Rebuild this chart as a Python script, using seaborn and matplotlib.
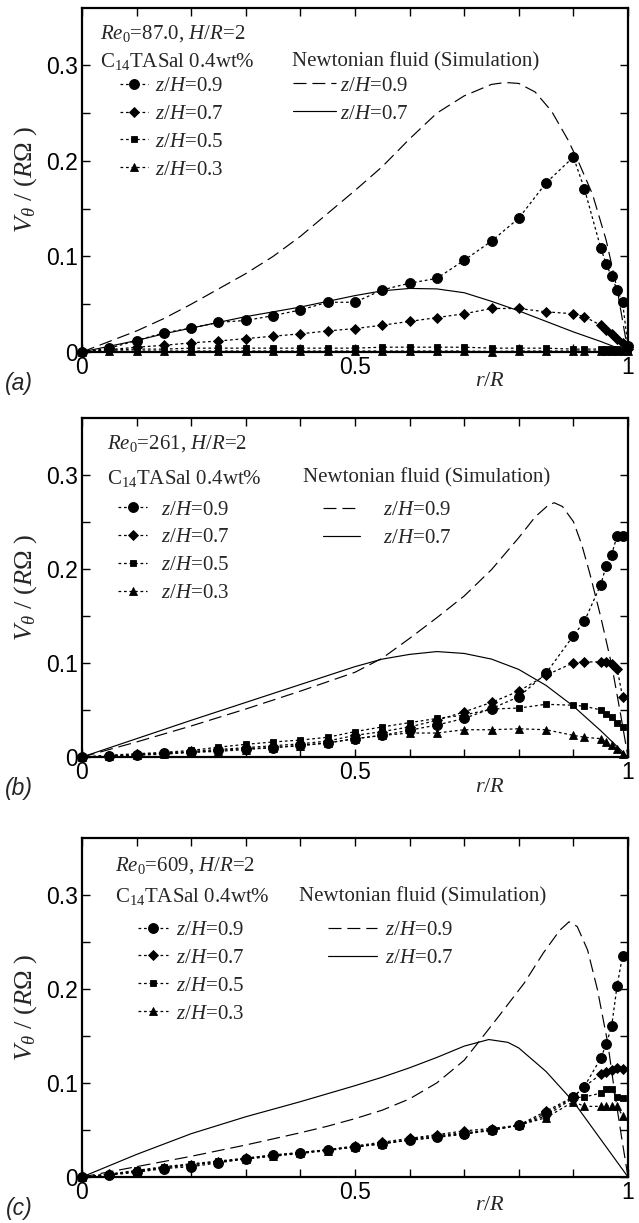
import matplotlib
matplotlib.use("Agg")
import matplotlib.pyplot as plt
from matplotlib.ticker import FixedLocator
import seaborn as sns

# ---------------------------------------------------------------------------
# Azimuthal velocity profiles V_theta/(R*Omega) versus r/R
# ---------------------------------------------------------------------------

# radial positions of the measurements
r_exp_a = [0, 0.05, 0.10, 0.15, 0.20, 0.25, 0.30, 0.35, 0.40, 0.45, 0.50, 0.55, 0.60,
           0.65, 0.70, 0.75, 0.80, 0.85, 0.90, 0.92, 0.95, 0.96, 0.97, 0.98, 0.99, 1.00]
r_exp_bc = [0, 0.05, 0.10, 0.15, 0.20, 0.25, 0.30, 0.35, 0.40, 0.45, 0.50, 0.55, 0.60,
            0.65, 0.70, 0.75, 0.80, 0.85, 0.90, 0.92, 0.95, 0.96, 0.97, 0.98, 0.99]

# (a) Re0 = 87.0, C14TASal 0.4wt%
a_z09 = [0, 0.004, 0.012, 0.020, 0.025, 0.031, 0.033, 0.038, 0.044, 0.052, 0.052, 0.065, 0.072,
         0.077, 0.096, 0.116, 0.140, 0.177, 0.204, 0.171, 0.109, 0.092, 0.079, 0.065, 0.052, 0.006]
a_z07 = [0, 0.0025, 0.005, 0.007, 0.0095, 0.0115, 0.014, 0.0165, 0.019, 0.022, 0.0245, 0.028, 0.032,
         0.036, 0.040, 0.0455, 0.0455, 0.042, 0.040, 0.037, 0.028, 0.023, 0.0185, 0.014, 0.009, 0.003]
a_z05 = [0, 0.002, 0.003, 0.003, 0.004, 0.004, 0.004, 0.004, 0.004, 0.004, 0.004, 0.005, 0.005,
         0.005, 0.005, 0.004, 0.004, 0.004, 0.003, 0.003, 0.003, 0.003, 0.003, 0.003, 0.002, 0.002]
a_z03 = [0, 0.001, 0.001, 0.001, 0.001, 0.001, 0.001, 0.001, 0.001, 0.001, 0.001, 0.001, 0.001,
         0.001, 0.001, 0.0005, 0.001, 0.001, 0.001, 0.001, 0.001, 0.001, 0.001, 0.001, 0.001, 0.001]

# (b) Re0 = 261
b_z09 = [0, 0.001, 0.002, 0.004, 0.005, 0.007, 0.009, 0.010, 0.0125, 0.015, 0.0195, 0.023, 0.0285,
         0.034, 0.041, 0.0515, 0.064, 0.089, 0.129, 0.144, 0.183, 0.203, 0.215, 0.235, 0.235]
b_z07 = [0, 0.001, 0.003, 0.004, 0.006, 0.008, 0.010, 0.012, 0.014, 0.017, 0.023, 0.027, 0.032,
         0.039, 0.048, 0.058, 0.070, 0.087, 0.100, 0.101, 0.101, 0.101, 0.099, 0.094, 0.064]
b_z05 = [0, 0.002, 0.0035, 0.005, 0.007, 0.0105, 0.0135, 0.016, 0.018, 0.021, 0.027, 0.032, 0.0365,
         0.041, 0.0445, 0.051, 0.052, 0.056, 0.055, 0.054, 0.050, 0.046, 0.042, 0.036, 0.032]
b_z03 = [0, 0.001, 0.002, 0.003, 0.005, 0.006, 0.008, 0.010, 0.012, 0.015, 0.0195, 0.023, 0.0255,
         0.0255, 0.029, 0.029, 0.030, 0.029, 0.023, 0.021, 0.0195, 0.016, 0.0125, 0.009, 0.0036]

# (c) Re0 = 609
c_z09 = [0, 0.002, 0.005, 0.009, 0.011, 0.015, 0.0195, 0.023, 0.0255, 0.029, 0.032, 0.0355, 0.039,
         0.042, 0.0455, 0.0495, 0.055, 0.0675, 0.085, 0.096, 0.126, 0.141, 0.160, 0.203, 0.235]
c_z07 = [0, 0.003, 0.006, 0.010, 0.013, 0.016, 0.020, 0.0235, 0.026, 0.029, 0.033, 0.037, 0.041,
         0.045, 0.049, 0.0515, 0.055, 0.070, 0.085, 0.096, 0.109, 0.112, 0.114, 0.116, 0.115]
c_z05 = [0, 0.003, 0.007, 0.011, 0.014, 0.017, 0.020, 0.023, 0.026, 0.029, 0.032, 0.036, 0.039,
         0.043, 0.046, 0.050, 0.055, 0.065, 0.084, 0.085, 0.089, 0.093, 0.093, 0.085, 0.084]
c_z03 = [0, 0.003, 0.006, 0.010, 0.013, 0.016, 0.019, 0.022, 0.025, 0.028, 0.032, 0.035, 0.040,
         0.044, 0.047, 0.050, 0.055, 0.063, 0.080, 0.075, 0.075, 0.0755, 0.0755, 0.075, 0.065]

# Newtonian simulation, z/H = 0.9 (dashed) and z/H = 0.7 (solid)
a_sim09_r = [0, 0.05, 0.1, 0.15, 0.2, 0.25, 0.3, 0.35, 0.4, 0.45, 0.5, 0.55, 0.6, 0.65, 0.7,
             0.75, 0.775, 0.8, 0.83, 0.86, 0.89, 0.91, 0.935, 0.96, 0.98, 1.0]
a_sim09_v = [0, 0.011, 0.022, 0.035, 0.050, 0.066, 0.082, 0.100, 0.121, 0.145, 0.169, 0.194, 0.223,
             0.250, 0.268, 0.280, 0.282, 0.281, 0.272, 0.252, 0.222, 0.198, 0.165, 0.117, 0.066, 0.0]
a_sim07_r = [0, 0.05, 0.1, 0.15, 0.2, 0.25, 0.3, 0.35, 0.4, 0.45, 0.5, 0.55, 0.6, 0.65, 0.7,
             0.75, 0.8, 0.85, 0.9, 0.95, 1.0]
a_sim07_v = [0, 0.006, 0.012, 0.019, 0.025, 0.031, 0.037, 0.042, 0.047, 0.053, 0.059, 0.064, 0.0665,
             0.066, 0.062, 0.053, 0.043, 0.032, 0.021, 0.011, 0.0]

b_sim09_r = [0, 0.1, 0.2, 0.3, 0.4, 0.5, 0.55, 0.6, 0.65, 0.7, 0.75, 0.8, 0.83, 0.855, 0.865,
             0.88, 0.9, 0.915, 0.93, 0.95, 0.97, 0.985, 1.0]
b_sim09_v = [0, 0.016, 0.033, 0.051, 0.070, 0.090, 0.105, 0.126, 0.148, 0.171, 0.199, 0.233, 0.255,
             0.268, 0.270, 0.266, 0.250, 0.226, 0.195, 0.149, 0.098, 0.050, 0.0]
b_sim07_r = [0, 0.1, 0.2, 0.3, 0.4, 0.5, 0.55, 0.6, 0.65, 0.7, 0.75, 0.8, 0.85, 0.9, 0.95, 1.0]
b_sim07_v = [0, 0.0195, 0.039, 0.058, 0.077, 0.096, 0.104, 0.109, 0.112, 0.110, 0.104, 0.093,
             0.076, 0.054, 0.028, 0.0]

c_sim09_r = [0, 0.1, 0.2, 0.3, 0.4, 0.45, 0.5, 0.55, 0.6, 0.65, 0.7, 0.73, 0.765, 0.81, 0.845,
             0.875, 0.892, 0.907, 0.926, 0.944, 0.963, 0.975, 0.988, 1.0]
c_sim09_v = [0, 0.011, 0.022, 0.034, 0.047, 0.054, 0.062, 0.071, 0.083, 0.100, 0.124, 0.146, 0.172,
             0.206, 0.238, 0.262, 0.271, 0.266, 0.241, 0.199, 0.142, 0.092, 0.043, 0.0]
c_sim07_r = [0, 0.1, 0.2, 0.3, 0.4, 0.5, 0.55, 0.6, 0.65, 0.7, 0.745, 0.78, 0.8, 0.85, 0.9, 0.95, 1.0]
c_sim07_v = [0, 0.024, 0.046, 0.064, 0.080, 0.097, 0.106, 0.116, 0.127, 0.139, 0.146, 0.143, 0.137,
             0.112, 0.080, 0.040, 0.0]

reynolds = ["87.0", "261", "609"]
panel_tags = ["a", "b", "c"]
exp_labels = ["0.9", "0.7", "0.5", "0.3"]
sim_labels = ["0.9", "0.7"]
x_ticks = [0, 0.5, 1]
x_ticklabels = ["0", "0.5", "1"]
y_ticks = [0, 0.1, 0.2, 0.3]
y_ticklabels = ["0", "0.1", "0.2", "0.3"]

panels = [
    (r_exp_a, [a_z09, a_z07, a_z05, a_z03], (a_sim09_r, a_sim09_v), (a_sim07_r, a_sim07_v)),
    (r_exp_bc, [b_z09, b_z07, b_z05, b_z03], (b_sim09_r, b_sim09_v), (b_sim07_r, b_sim07_v)),
    (r_exp_bc, [c_z09, c_z07, c_z05, c_z03], (c_sim09_r, c_sim09_v), (c_sim07_r, c_sim07_v)),
]

# ---------------------------------------------------------------------------
# styling
# ---------------------------------------------------------------------------
sns.set_theme(style="ticks")
plt.rcParams.update({
    "font.family": ["Liberation Sans", "DejaVu Sans"],
    "mathtext.fontset": "custom",
    "mathtext.rm": "Liberation Serif",
    "mathtext.it": "Liberation Serif:italic",
    "mathtext.bf": "Liberation Serif:bold",
    "axes.linewidth": 1.6,
    "axes.edgecolor": "black",
    "xtick.color": "black",
    "ytick.color": "black",
})
SERIF = ["Liberation Serif", "DejaVu Serif"]
FS = 15
TICK_FS = 16.5

marker_styles = [("o", 7.2), ("D", 4.9), ("s", 4.8), ("^", 6.0)]
dot_ls = (0, (2.2, 2.2))
dash_ls = (0, (11, 5))

# axes rectangles (figure fractions) and per-panel text placement
axes_rects = [
    [0.1283, 0.7122, 0.8545, 0.2813],
    [0.1283, 0.3810, 0.8545, 0.2772],
    [0.1283, 0.0376, 0.8545, 0.2772],
]
layouts = [
    dict(tx=0.033, ty1=0.927, ty2=0.843, nx=0.385,
         ex=0.070, ey=0.651, ehl=1.35, etp=0.30,
         sx=0.386, sy=0.733, shl=2.07, stp=0.20, lab_y=-0.085),
    dict(tx=0.046, ty1=0.926, ty2=0.823, nx=0.405,
         ex=0.066, ey=0.606, ehl=1.40, etp=0.67,
         sx=0.441, sy=0.687, shl=1.80, stp=1.10, lab_y=-0.090),
    dict(tx=0.060, ty1=0.920, ty2=0.826, nx=0.397,
         ex=0.103, ey=0.605, ehl=1.45, etp=0.34,
         sx=0.450, sy=0.687, shl=2.35, stp=0.40, lab_y=-0.085),
]

fig = plt.figure(figsize=(6.39, 12.23), dpi=100)

for k, (r_exp, exp_series, sim09, sim07) in enumerate(panels):
    ax = fig.add_axes(axes_rects[k])
    lay = layouts[k]

    # Newtonian simulation curves
    sns.lineplot(x=sim09[0], y=sim09[1], ax=ax, color="black", lw=0.85,
                 linestyle=dash_ls, estimator=None, sort=False, legend=False)
    sns.lineplot(x=sim07[0], y=sim07[1], ax=ax, color="black", lw=0.85,
                 linestyle="-", estimator=None, sort=False, legend=False)
    sim_handles = list(ax.get_lines())

    # measured profiles
    exp_handles = []
    for vals, (mk, ms) in zip(exp_series, marker_styles):
        n_before = len(ax.get_lines())
        sns.lineplot(x=r_exp[:len(vals)], y=vals, ax=ax, color="black", lw=0.9,
                     linestyle=dot_ls, marker=mk, markersize=ms,
                     markerfacecolor="black", markeredgecolor="black", markeredgewidth=0.6,
                     estimator=None, sort=False, legend=False, clip_on=False, zorder=3)
        exp_handles.append(ax.get_lines()[n_before])

    ax.set_xlim(0, 1)
    ax.set_ylim(0, 0.36)
    ax.xaxis.set_major_locator(FixedLocator(x_ticks))
    ax.xaxis.set_minor_locator(FixedLocator([0.1, 0.2, 0.3, 0.4, 0.6, 0.7, 0.8, 0.9]))
    ax.yaxis.set_major_locator(FixedLocator(y_ticks))
    ax.yaxis.set_minor_locator(FixedLocator([0.05, 0.15, 0.25]))
    ax.set_xticklabels(x_ticklabels)
    ax.set_yticklabels(y_ticklabels)
    ax.tick_params(which="both", direction="in", top=True, right=True,
                   length=5.5, width=1.0, labelsize=TICK_FS, pad=3)
    for s in ax.spines.values():
        s.set_linewidth(1.6)

    ax.set_ylabel(r"$V_\theta$ / ($R\Omega$ )", fontsize=19, family=SERIF)
    ax.yaxis.set_label_coords(-0.104, 0.5)
    ax.yaxis.label.set_va("center")
    ax.set_xlabel(r"$r/R$", fontsize=16, family=SERIF)
    ax.xaxis.set_label_coords(0.747, lay["lab_y"])
    ax.xaxis.label.set_va("center")

    ax.text(lay["tx"], lay["ty1"], r"$Re_0$=" + reynolds[k] + r", $H/R$=2",
            transform=ax.transAxes, fontsize=FS, family=SERIF, va="center", ha="left")
    ax.text(lay["tx"], lay["ty2"], r"C$_{14}$TASal 0.4wt%",
            transform=ax.transAxes, fontsize=FS, family=SERIF, va="center", ha="left")
    ax.text(lay["nx"], lay["ty2"], "Newtonian fluid (Simulation)",
            transform=ax.transAxes, fontsize=FS, family=SERIF, va="center", ha="left")

    # two independent legends: measurements and simulation
    leg1 = ax.legend(exp_handles, [r"$z/H$=" + s for s in exp_labels],
                     loc="center left", bbox_to_anchor=(lay["ex"], lay["ey"]),
                     bbox_transform=ax.transAxes, frameon=False, borderpad=0,
                     borderaxespad=0, handlelength=lay["ehl"], handletextpad=lay["etp"],
                     labelspacing=0.4, numpoints=1, prop=dict(family=SERIF, size=FS))
    ax.add_artist(leg1)
    ax.legend(sim_handles, [r"$z/H$=" + s for s in sim_labels],
              loc="center left", bbox_to_anchor=(lay["sx"], lay["sy"]),
              bbox_transform=ax.transAxes, frameon=False, borderpad=0,
              borderaxespad=0, handlelength=lay["shl"], handletextpad=lay["stp"],
              labelspacing=0.4, prop=dict(family=SERIF, size=FS))

    fig.text(0.030, ax.get_position().y0 - 0.026, "(" + panel_tags[k] + ")",
             fontsize=16.5, style="italic", ha="center", va="center")

fig.savefig("out.png", dpi=100)
